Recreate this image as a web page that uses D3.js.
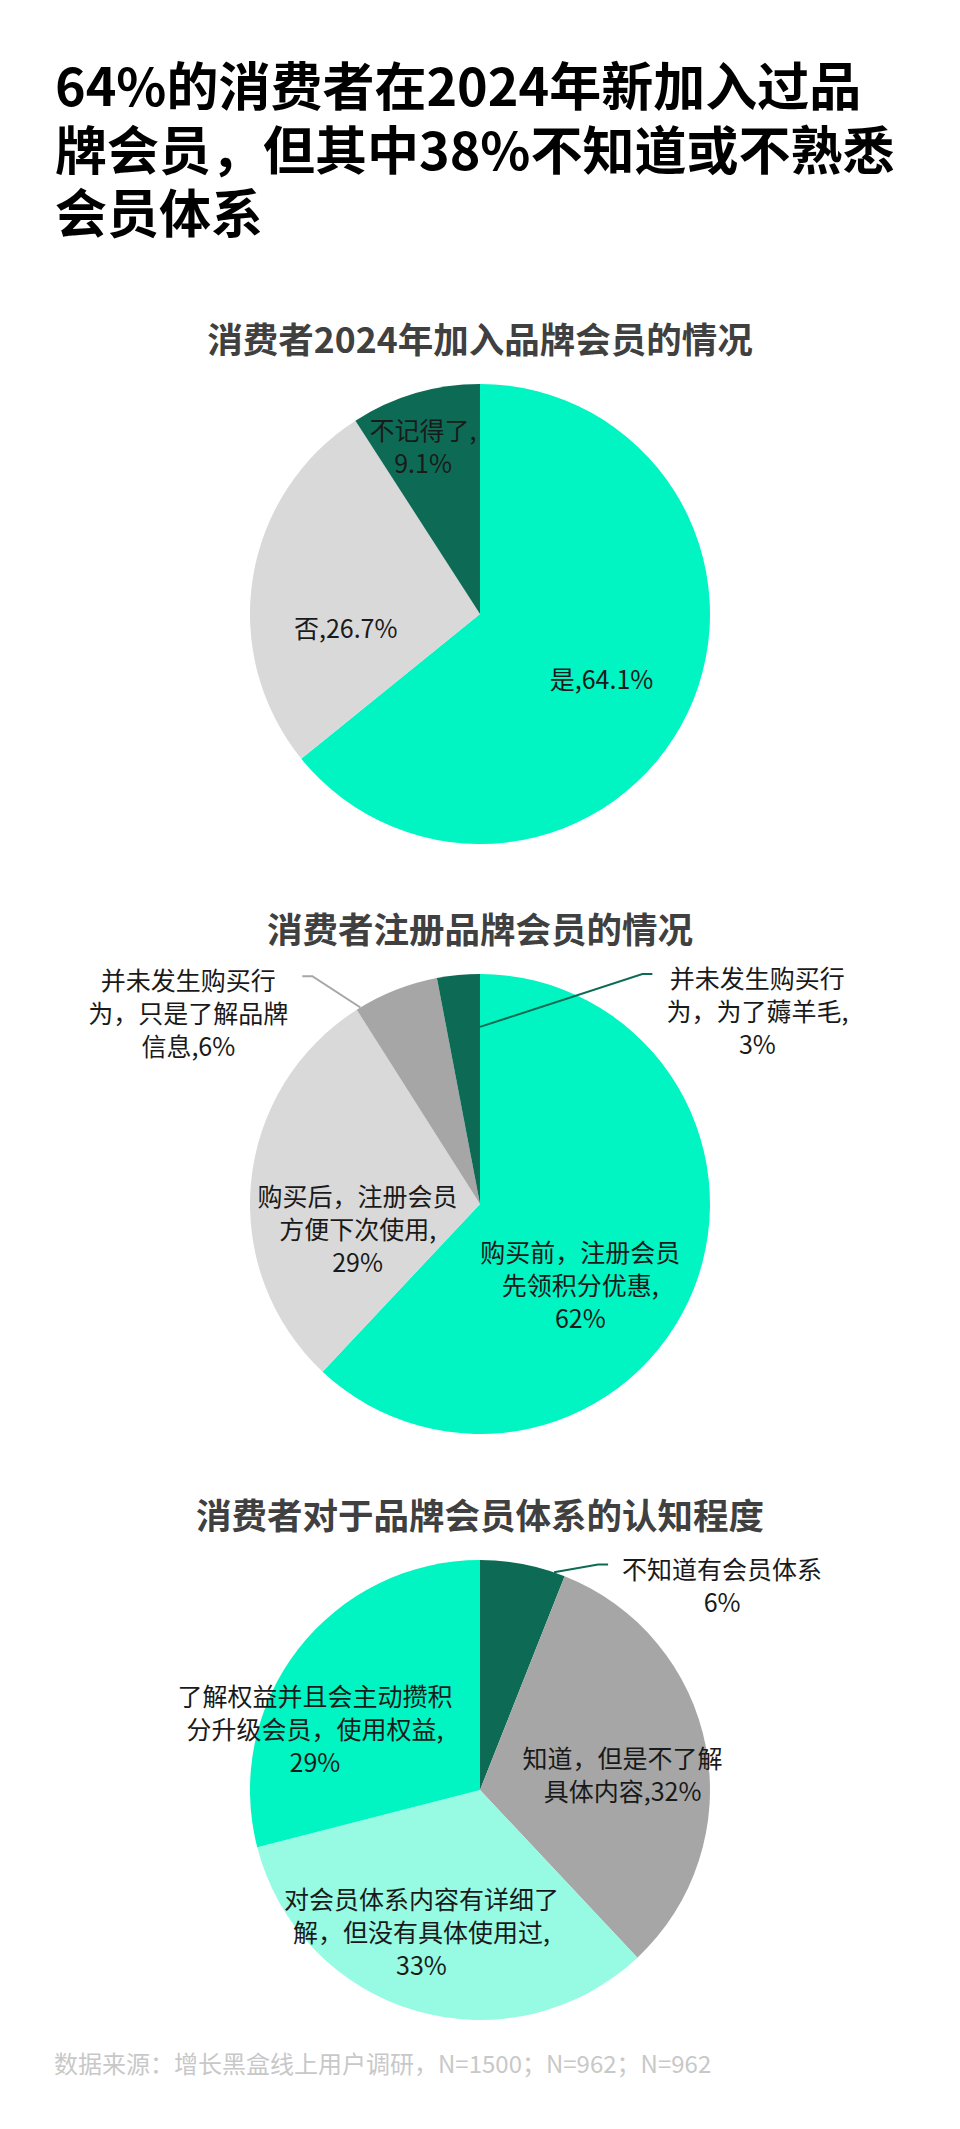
<!DOCTYPE html>
<meta charset="utf-8">
<style>

body {
  margin: 0;
  background: #fff;
}

text {
  font-family: "Noto Sans CJK SC", "Noto Sans", sans-serif;
}

.title {
  font-size: 52px;
  font-weight: 700;
  fill: #000;
}

.sub {
  font-size: 35.5px;
  font-weight: 700;
  fill: #404040;
}

.lbl {
  font-size: 25px;
  fill: #1a1a1a;
}

.src {
  font-size: 24px;
  fill: #c8c8c8;
}

</style>
<body>
<script src="https://cdn.jsdelivr.net/npm/d3@7"></script>
<script>

var titleLines = ["64%的消费者在2024年新加入过品", "牌会员，但其中38%不知道或不熟悉", "会员体系"];
var source = "数据来源：增长黑盒线上用户调研，N=1500；N=962；N=962";

// chart 1
var sub1 = "消费者2024年加入品牌会员的情况";
var cats1 = ["是", "否", "不记得了"];
var vals1 = [64.1, 26.7, 9.1];
var labels1 = ["是,{v}", "否,{v}", "不记得了,\n{v}"];

// chart 2
var sub2 = "消费者注册品牌会员的情况";
var cats2 = ["购买前，注册会员先领积分优惠", "购买后，注册会员方便下次使用",
             "并未发生购买行为，只是了解品牌信息", "并未发生购买行为，为了薅羊毛"];
var vals2 = [62, 29, 6, 3];
var labels2 = ["购买前，注册会员\n先领积分优惠,\n{v}", "购买后，注册会员\n方便下次使用,\n{v}",
               "并未发生购买行\n为，只是了解品牌\n信息,{v}", "并未发生购买行\n为，为了薅羊毛,\n{v}"];

// chart 3
var sub3 = "消费者对于品牌会员体系的认知程度";
var cats3 = ["不知道有会员体系", "知道，但是不了解具体内容",
             "对会员体系内容有详细了解，但没有具体使用过", "了解权益并且会主动攒积分升级会员，使用权益"];
var vals3 = [6, 32, 33, 29];
var labels3 = ["不知道有会员体系\n{v}", "知道，但是不了解\n具体内容,{v}",
               "对会员体系内容有详细了\n解，但没有具体使用过,\n{v}", "了解权益并且会主动攒积\n分升级会员，使用权益,\n{v}"];

var teal = "#00f5c3", dark = "#0d6b55", light = "#d9d9d9", mid = "#a6a6a6", pale = "#96fbe2";

var width = 960,
    height = 2129,
    r = 230,
    cx = 480,
    lh = 33;

var svg = d3.select("body").append("svg")
    .attr("width", width)
    .attr("height", height);

// headline, one text per line
svg.selectAll("text.title")
    .data(titleLines)
  .enter().append("text")
    .attr("class", "title")
    .attr("x", 55)
    .attr("y", function(d, i) { return 83.5 + i * 63.5; })
    .attr("dominant-baseline", "central")
    .text(function(d) { return d; });

var charts = [
  {cy: 614, sub: sub1, cats: cats1, vals: vals1, labels: labels1, colors: [teal, light, dark],
   outside: [false, false, false],
   nudge: [[-3, 5], [2, 35], [-18, -36]], leaders: []},
  {cy: 1204, sub: sub2, cats: cats2, vals: vals2, labels: labels2, colors: [teal, light, mid, dark],
   outside: [false, false, true, true],
   nudge: [[-28, 29], [15, 37], [-207, 22], [299, 35]],
   leaders: [{i: 2, side: "left", f: 0.05, rf: 1}, {i: 3, side: "right", f: 1, rf: 0.77}]},
  {cy: 1790, sub: sub3, cats: cats3, vals: vals3, labels: labels3, colors: [dark, mid, pale, teal],
   outside: [true, false, false, false],
   nudge: [[199, 20], [7, 9], [-20, 8], [-56, 23]],
   leaders: [{i: 0, side: "right", f: 0.87, rf: 1}]}
];

var pie = d3.pie().sort(null).value(function(d) { return d.value; });
var arc = d3.arc().innerRadius(0).outerRadius(r);
var inArc = d3.arc().innerRadius(r * 0.6).outerRadius(r * 0.6);
var edgeArc = d3.arc().innerRadius(r).outerRadius(r);

charts.forEach(function(c) {

  var data = c.cats.map(function(name, i) {
    return {name: name, value: c.vals[i], label: c.labels[i], color: c.colors[i]};
  });
  var arcs = pie(data);

  svg.append("text")
      .attr("class", "sub")
      .attr("x", cx)
      .attr("y", c.cy - r - 47)
      .attr("text-anchor", "middle")
      .attr("dominant-baseline", "central")
      .text(c.sub);

  var g = svg.append("g")
      .attr("transform", "translate(" + cx + "," + c.cy + ")");

  g.selectAll("path")
      .data(arcs)
    .enter().append("path")
      .attr("d", arc)
      .attr("fill", function(d) { return d.data.color; });

  var labels = g.selectAll("text.lbl")
      .data(arcs)
    .enter().append("text")
      .attr("class", "lbl")
      .attr("text-anchor", "middle")
      .each(function(d, i) {
        var p = (c.outside[i] ? edgeArc : inArc).centroid(d);
        var x = p[0] + c.nudge[i][0], y = p[1] + c.nudge[i][1];
        var lines = d.data.label.replace("{v}", d.data.value + "%").split("\n");
        var y0 = y - (lines.length - 1) * lh / 2;
        d3.select(this).selectAll("tspan")
            .data(lines)
          .enter().append("tspan")
            .attr("x", x)
            .attr("y", function(l, k) { return y0 + k * lh; })
            .attr("dominant-baseline", "central")
            .text(function(l) { return l; });
        d.firstY = y0;
      });

  // leader lines for labels set outside the pie
  c.leaders.forEach(function(L) {
    var d = arcs[L.i];
    var box = labels.nodes()[L.i].getBBox();
    var y = d.firstY - 3;
    var x0 = L.side === "left" ? box.x + box.width + 14 : box.x - 14;
    var x1 = L.side === "left" ? x0 + 10 : x0 - 10;
    var a = d.startAngle + L.f * (d.endAngle - d.startAngle);
    var ex = Math.sin(a) * r * L.rf, ey = -Math.cos(a) * r * L.rf;
    g.append("path")
        .attr("d", "M" + x0 + "," + y + "L" + x1 + "," + y + "L" + ex + "," + ey)
        .attr("fill", "none")
        .attr("stroke", d.data.color)
        .attr("stroke-width", 2);
  });
});

svg.append("text")
    .attr("class", "src")
    .attr("x", 54)
    .attr("y", 2062)
    .attr("dominant-baseline", "central")
    .text(source);

</script>
